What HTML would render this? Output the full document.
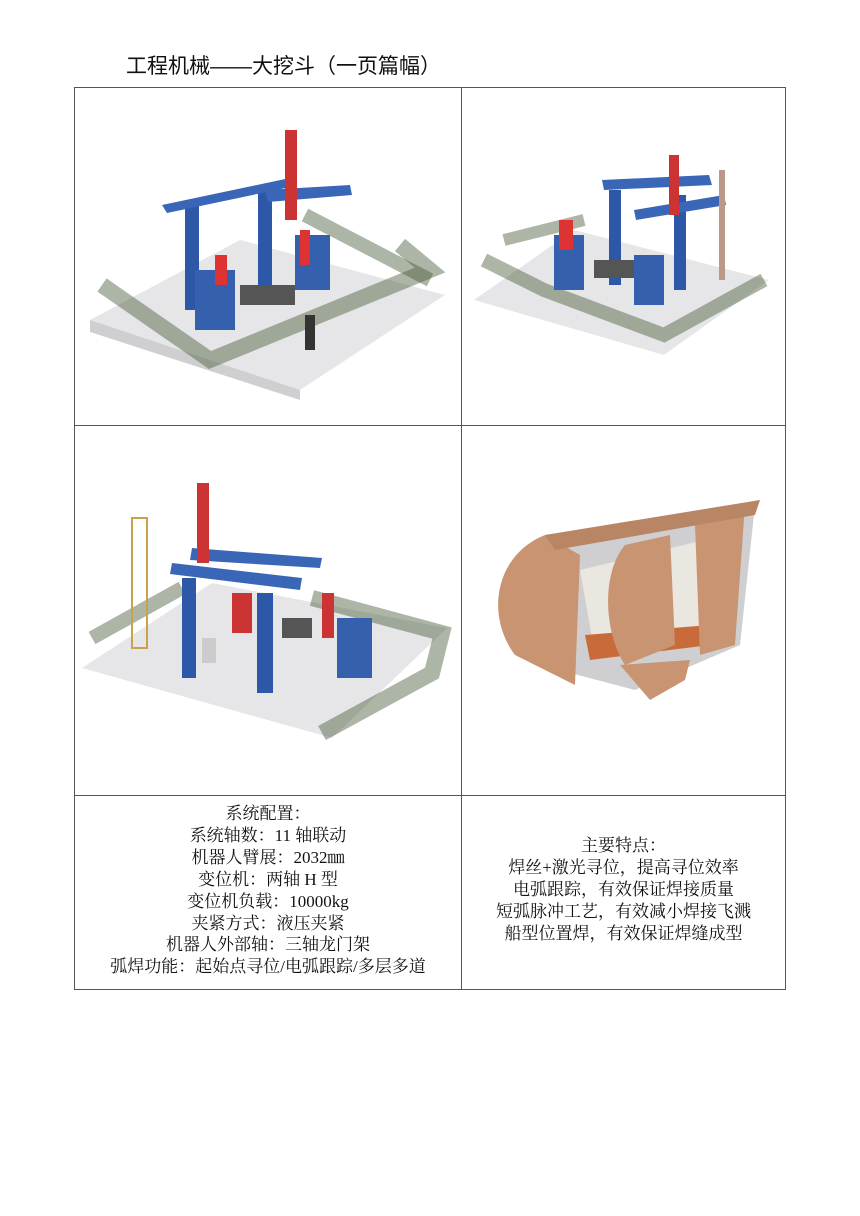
<!DOCTYPE html>
<html><head><meta charset="utf-8"><style>
body{margin:0;background:#fff;width:860px;height:1216px;position:relative;overflow:hidden}
.t{position:absolute;left:126px;top:50px;font:21px "Liberation Sans","Noto Sans CJK SC",sans-serif;color:#111}
.ln{position:absolute;background:#555}
.tx{position:absolute;font:17px "Liberation Serif","Noto Serif CJK SC",serif;color:#111;text-align:center;line-height:21.9px;white-space:nowrap}
svg{position:absolute}
</style></head><body>
<div class="t">工程机械——大挖斗（一页篇幅）</div>
<div class="ln" style="left:74px;top:87px;width:712px;height:1px"></div>
<div class="ln" style="left:74px;top:425px;width:712px;height:1px"></div>
<div class="ln" style="left:74px;top:795px;width:712px;height:1px"></div>
<div class="ln" style="left:74px;top:989px;width:712px;height:1px"></div>
<div class="ln" style="left:74px;top:87px;width:1px;height:903px"></div>
<div class="ln" style="left:461px;top:87px;width:1px;height:903px"></div>
<div class="ln" style="left:785px;top:87px;width:1px;height:903px"></div>

<!-- image 1 -->
<svg style="left:90px;top:120px" width="360" height="280" viewBox="0 0 360 280">
<polygon points="0,200 150,120 355,175 210,270" fill="#e6e6e8"/>
<polygon points="0,200 210,270 210,280 0,212" fill="#cfcfd2"/>
<polyline points="12,165 120,240 340,150 310,125" fill="none" stroke="#4a5a3a" stroke-width="16" opacity=".45"/>
<polyline points="215,95 340,160" fill="none" stroke="#4a5a3a" stroke-width="14" opacity=".45"/>
<rect x="95" y="80" width="14" height="110" fill="#2d58a8"/>
<rect x="168" y="72" width="14" height="100" fill="#2d58a8"/>
<polygon points="72,85 200,58 205,66 77,93" fill="#3a66b8"/>
<polygon points="175,70 260,65 262,75 178,82" fill="#3a66b8"/>
<rect x="195" y="10" width="12" height="90" fill="#c33"/>
<rect x="105" y="150" width="40" height="60" fill="#3560ad"/>
<rect x="205" y="115" width="35" height="55" fill="#3560ad"/>
<rect x="125" y="135" width="12" height="30" fill="#d33"/>
<rect x="210" y="110" width="10" height="35" fill="#d33"/>
<rect x="150" y="165" width="55" height="20" fill="#555"/>
<rect x="215" y="195" width="10" height="35" fill="#333"/>
</svg>

<!-- image 2 -->
<svg style="left:474px;top:150px" width="300" height="205" viewBox="0 0 300 205">
<polygon points="0,150 100,80 295,130 190,205" fill="#e6e6e8"/>
<polyline points="10,110 70,140 190,185 290,130" fill="none" stroke="#4a5a3a" stroke-width="14" opacity=".45"/>
<polyline points="30,90 110,70" fill="none" stroke="#4a5a3a" stroke-width="12" opacity=".45"/>
<rect x="135" y="40" width="12" height="95" fill="#2d58a8"/>
<rect x="200" y="45" width="12" height="95" fill="#2d58a8"/>
<polygon points="128,30 235,25 238,35 130,40" fill="#3a66b8"/>
<polygon points="160,60 250,45 252,55 162,70" fill="#3a66b8"/>
<rect x="195" y="5" width="10" height="60" fill="#c33"/>
<rect x="245" y="20" width="6" height="110" fill="#b98"/>
<rect x="80" y="85" width="30" height="55" fill="#3560ad"/>
<rect x="160" y="105" width="30" height="50" fill="#3560ad"/>
<rect x="85" y="70" width="14" height="30" fill="#d33"/>
<rect x="120" y="110" width="40" height="18" fill="#555"/>
</svg>

<!-- image 3 -->
<svg style="left:82px;top:478px" width="370" height="270" viewBox="0 0 370 270">
<polygon points="0,190 130,105 365,150 250,260" fill="#e6e6e8"/>
<polyline points="10,160 100,110" fill="none" stroke="#4a5a3a" stroke-width="14" opacity=".45"/>
<polyline points="230,120 360,155 350,195 240,255" fill="none" stroke="#4a5a3a" stroke-width="16" opacity=".45"/>
<rect x="50" y="40" width="15" height="130" fill="none" stroke="#c9a34a" stroke-width="2"/>
<polygon points="90,85 220,100 218,112 88,96" fill="#3a66b8"/>
<polygon points="110,70 240,80 238,90 108,82" fill="#3a66b8"/>
<rect x="115" y="5" width="12" height="80" fill="#c33"/>
<rect x="100" y="100" width="14" height="100" fill="#2d58a8"/>
<rect x="175" y="115" width="16" height="100" fill="#2d58a8"/>
<rect x="255" y="140" width="35" height="60" fill="#3560ad"/>
<rect x="150" y="115" width="20" height="40" fill="#c33"/>
<rect x="240" y="115" width="12" height="45" fill="#c33"/>
<rect x="120" y="160" width="14" height="25" fill="#ccc"/>
<rect x="200" y="140" width="30" height="20" fill="#555"/>
</svg>

<!-- bucket -->
<svg style="left:485px;top:495px" width="285" height="215" viewBox="0 0 285 215">
<polygon points="60,40 270,10 255,150 150,195 55,170" fill="#cfcfd2"/>
<polygon points="95,75 240,40 225,145 110,160" fill="#eae6e0"/>
<polygon points="100,140 225,130 225,150 105,165" fill="#c96a3a"/>
<path d="M60,40 C10,60 0,120 30,160 L90,190 L95,60 Z" fill="#c99472"/>
<path d="M140,50 C115,80 120,140 140,170 L190,150 L185,40 Z" fill="#c99472"/>
<polygon points="210,30 260,10 250,150 215,160" fill="#c99472"/>
<polygon points="60,40 275,5 270,20 70,55" fill="#b88665"/>
<path d="M135,170 L165,205 L200,185 L205,165 Z" fill="#c99472"/>
</svg>

<div class="tx" style="left:75px;top:803px;width:386px">系统配置：<br>系统轴数：11 轴联动<br>机器人臂展：2032㎜<br>变位机：两轴 H 型<br>变位机负载：10000kg<br>夹紧方式：液压夹紧<br>机器人外部轴：三轴龙门架<br>弧焊功能：起始点寻位/电弧跟踪/多层多道</div>
<div class="tx" style="left:462px;top:835px;width:323px">主要特点：<br>焊丝+激光寻位，提高寻位效率<br>电弧跟踪，有效保证焊接质量<br>短弧脉冲工艺，有效减小焊接飞溅<br>船型位置焊，有效保证焊缝成型</div>
</body></html>
